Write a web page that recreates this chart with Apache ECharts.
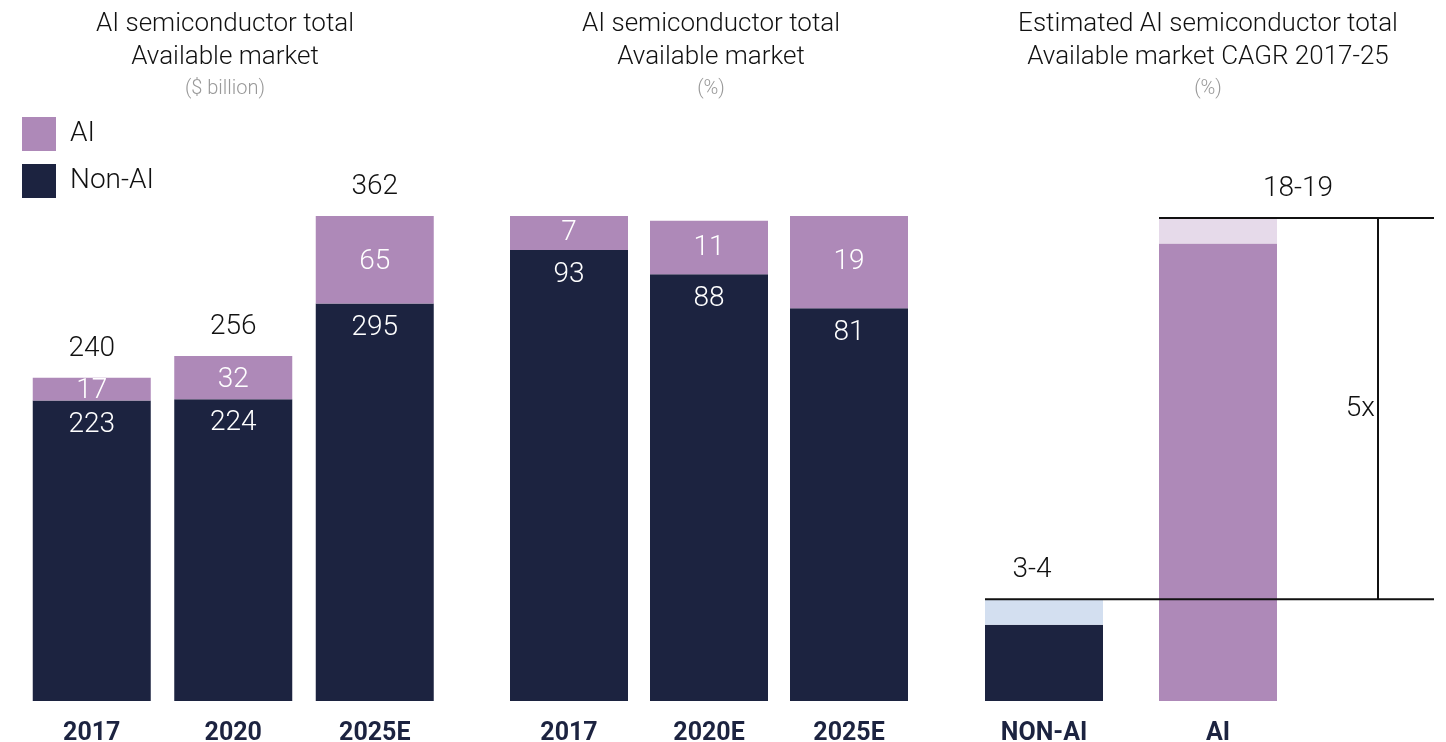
<!DOCTYPE html>
<html><head><meta charset="utf-8">
<script src="https://cdn.jsdelivr.net/npm/echarts@6/dist/echarts.min.js"></script>
<style>html,body{margin:0;padding:0;background:#fff}#c{width:1446px;height:742px}</style>
</head><body><div id="c"></div>
<script>
// ---- data ----
const years1 = ['2017', '2020', '2025E'];
const nonAI1 = [223, 224, 295];
const ai1 = [17, 32, 65];
const totals1 = [240, 256, 362];

const years2 = ['2017', '2020E', '2025E'];
const nonAI2 = [93, 88, 81];
const ai2 = [7, 11, 19];

const cats3 = ['NON-AI', 'AI'];
const cagrLow = [3, 18];
const cagrHigh = [4, 19];
const cagrLabels = ['3-4', '18-19'];
const ratioLabel = '5x';

const titles = [
  {text: 'AI semiconductor total\nAvailable market', sub: '($ billion)'},
  {text: 'AI semiconductor total\nAvailable market', sub: '(%)'},
  {text: 'Estimated AI semiconductor total\nAvailable market CAGR 2017-25', sub: '(%)'}
];

// ---- styles ----
const NAVY = '#1c2340', PURPLE = '#ae89b8', LPURPLE = '#e6daea', LBLUE = '#d3dff0';
const FONT = 'Roboto, "Helvetica Neue", Arial, sans-serif';
const BW = 118;
const GRID_TOP = 216, GRID_H = 485;
const VAL_FS = 28;

const chart = echarts.init(document.getElementById('c'), null, {renderer: 'canvas'});

const titleX = [225, 711, 1208];
const grids = [
  {left: 21, width: 424.5, top: GRID_TOP, height: GRID_H, outerBoundsMode: 'none', containLabel: false},
  {left: 499, width: 420, top: GRID_TOP, height: GRID_H, outerBoundsMode: 'none', containLabel: false},
  {left: 957, width: 348, top: GRID_TOP, height: GRID_H, outerBoundsMode: 'none', containLabel: false}
];
const xAxis = [years1, years2, cats3].map((d, i) => ({
  type: 'category', gridIndex: i, data: d,
  axisLine: {show: false}, axisTick: {show: false},
  axisLabel: {fontFamily: FONT, fontSize: 25, fontWeight: 'bold', color: NAVY, margin: 20}
}));
const yAxis = [360, 100, 19.08].map((m, i) => ({
  type: 'value', gridIndex: i, min: 0, max: m, show: false
}));

const valLabelW = {fontFamily: FONT, fontSize: VAL_FS, fontWeight: 300, color: '#fff'};
const valLabelK = {fontFamily: FONT, fontSize: VAL_FS, fontWeight: 300, color: '#111'};

const series = [
  {name: 'Non-AI', type: 'bar', xAxisIndex: 0, yAxisIndex: 0, stack: 'a', barWidth: BW,
   itemStyle: {color: NAVY}, data: nonAI1,
   label: Object.assign({show: true, position: 'insideTop', distance: 10}, valLabelW)},
  {name: 'AI', type: 'bar', xAxisIndex: 0, yAxisIndex: 0, stack: 'a', barWidth: BW,
   itemStyle: {color: PURPLE}, data: ai1,
   label: Object.assign({show: true, position: 'inside', offset: [0, 2]}, valLabelW)},
  {name: 'total', type: 'bar', xAxisIndex: 0, yAxisIndex: 0, stack: 'a', barWidth: BW,
   itemStyle: {color: 'transparent'}, data: totals1.map(() => 0),
   label: Object.assign({show: true, position: 'top', distance: 15,
     formatter: p => String(totals1[p.dataIndex])}, valLabelK)},
  {name: 'Non-AI', type: 'bar', xAxisIndex: 1, yAxisIndex: 1, stack: 'b', barWidth: BW,
   itemStyle: {color: NAVY}, data: nonAI2,
   label: Object.assign({show: true, position: 'insideTop', distance: 11}, valLabelW)},
  {name: 'AI', type: 'bar', xAxisIndex: 1, yAxisIndex: 1, stack: 'b', barWidth: BW,
   itemStyle: {color: PURPLE}, data: ai2,
   label: Object.assign({show: true, position: 'inside'}, valLabelW)},
  {name: 'cagrBase', type: 'bar', xAxisIndex: 2, yAxisIndex: 2, stack: 'c', barWidth: BW,
   data: cagrLow.map((v, i) => ({value: v, itemStyle: {color: i === 0 ? NAVY : PURPLE}}))},
  {name: 'cagrRange', type: 'bar', xAxisIndex: 2, yAxisIndex: 2, stack: 'c', barWidth: BW,
   data: cagrHigh.map((v, i) => ({
     value: v - cagrLow[i], itemStyle: {color: i === 0 ? LBLUE : LPURPLE},
     label: {offset: i === 0 ? [-12, 0] : [80, 0]}
   })),
   label: Object.assign({show: true, position: 'top', distance: 15,
     formatter: p => cagrLabels[p.dataIndex]}, valLabelK)}
];

const option = {
  animation: false,
  backgroundColor: '#fff',
  title: titles.map((t, i) => ({
    text: t.text, subtext: t.sub, left: titleX[i], top: 8, textAlign: 'center', itemGap: 4, padding: 0,
    textStyle: {fontFamily: FONT, fontSize: 26, fontWeight: 300, color: '#111', lineHeight: 33},
    subtextStyle: {fontFamily: FONT, fontSize: 20, fontWeight: 300, color: '#999', lineHeight: 22}
  })),
  legend: {
    data: ['AI', 'Non-AI'], orient: 'vertical', left: 22, top: 117, padding: 0,
    itemWidth: 34, itemHeight: 34, itemGap: 13, icon: 'rect', selectedMode: false,
    textStyle: {fontFamily: FONT, fontSize: 28, fontWeight: 300, color: '#111', padding: [0, 0, 0, 9]}
  },
  grid: grids,
  xAxis: xAxis,
  yAxis: yAxis,
  series: series
};
chart.setOption(option);

// bracket showing the ratio, positioned through the chart's scales
const pTop = chart.convertToPixel({xAxisIndex: 2, yAxisIndex: 2}, [cats3[1], cagrHigh[1]]);
const pBot = chart.convertToPixel({xAxisIndex: 2, yAxisIndex: 2}, [cats3[0], cagrHigh[0]]);
const rightX = 1434, vX = 1378;
const lineStyle = {stroke: '#111', lineWidth: 2};
chart.setOption({
  graphic: [
    {type: 'line', shape: {x1: pTop[0] - BW / 2, y1: pTop[1], x2: rightX, y2: pTop[1]}, style: lineStyle, z: 10},
    {type: 'line', shape: {x1: pBot[0] - BW / 2, y1: pBot[1], x2: rightX, y2: pBot[1]}, style: lineStyle, z: 10},
    {type: 'line', shape: {x1: vX, y1: pTop[1], x2: vX, y2: pBot[1]}, style: lineStyle, z: 10},
    {type: 'text', x: vX - 3, y: (pTop[1] + pBot[1]) / 2,
     style: {text: ratioLabel, textAlign: 'right', textVerticalAlign: 'middle', fontFamily: FONT, fontSize: VAL_FS, fontWeight: 300, fill: '#111'}, z: 10}
  ]
});
</script></body></html>
